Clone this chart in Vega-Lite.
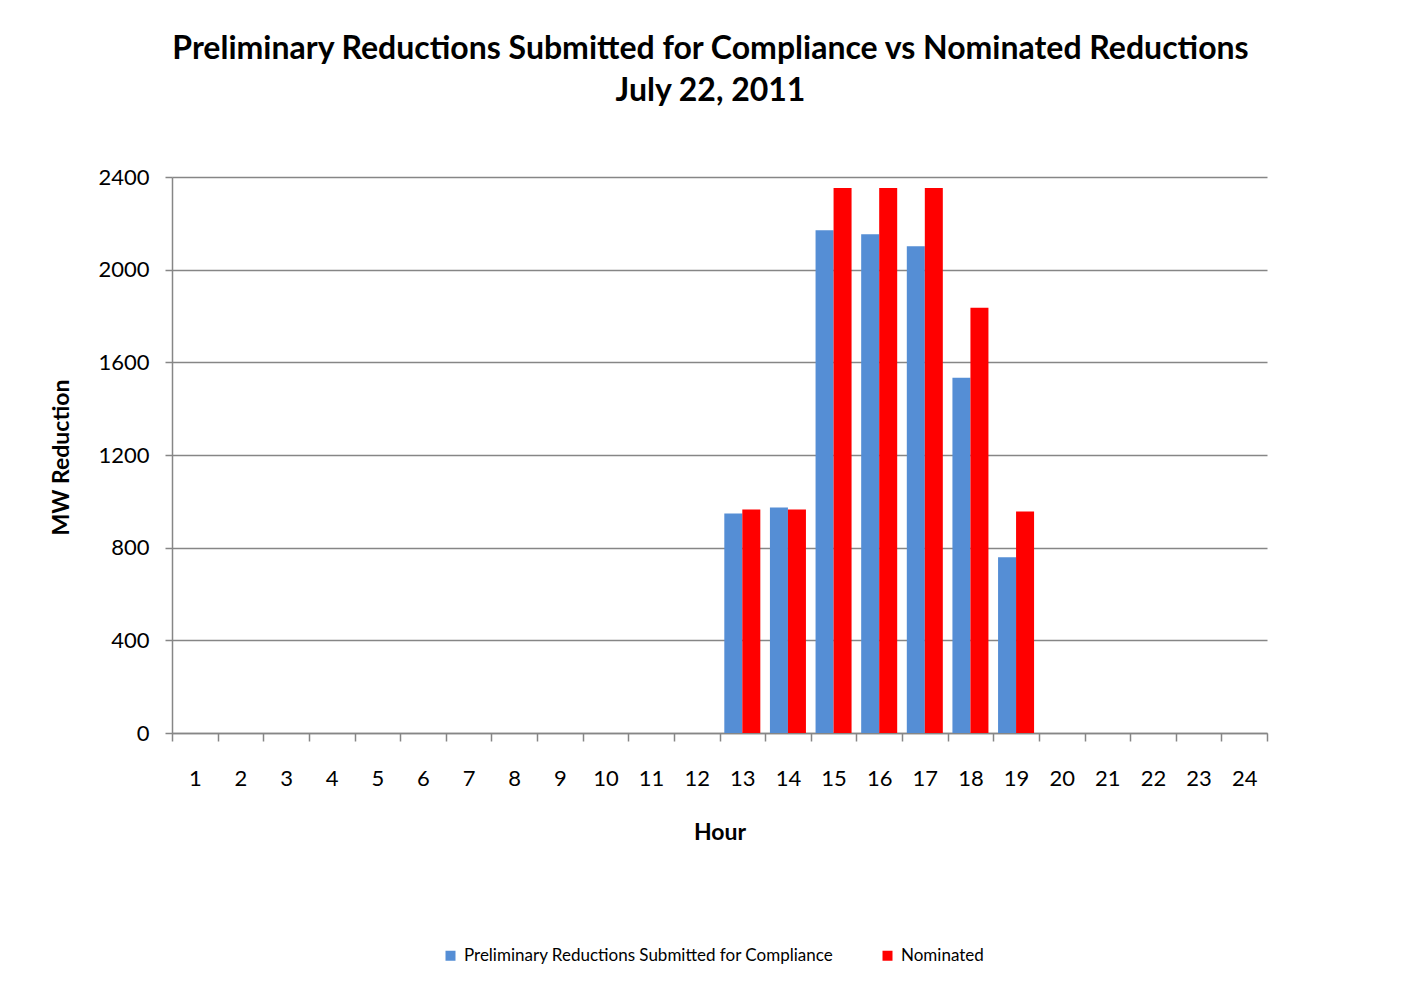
{
  "$schema": "https://vega.github.io/schema/vega-lite/v6.json",
  "width": 1095,
  "height": 556,
  "autosize": {"type": "none"},
  "padding": {"left": 172, "top": 177, "right": 135, "bottom": 253},
  "background": "white",
  "config": {
    "view": {"stroke": null},
    "font": "Lato"
  },
  "title": {
    "text": ["Preliminary Reductions Submitted for Compliance vs Nominated Reductions", "July 22, 2011"],
    "anchor": "middle",
    "font": "Lato",
    "fontSize": 32,
    "fontWeight": "bold",
    "color": "#000000",
    "lineHeight": 42,
    "offset": 58,
    "dx": -9
  },
  "data": {
    "values": [
      {"hour": 13, "series": "Preliminary Reductions Submitted for Compliance", "mw": 948},
      {"hour": 13, "series": "Nominated", "mw": 965},
      {"hour": 14, "series": "Preliminary Reductions Submitted for Compliance", "mw": 973},
      {"hour": 14, "series": "Nominated", "mw": 965},
      {"hour": 15, "series": "Preliminary Reductions Submitted for Compliance", "mw": 2170},
      {"hour": 15, "series": "Nominated", "mw": 2352},
      {"hour": 16, "series": "Preliminary Reductions Submitted for Compliance", "mw": 2153},
      {"hour": 16, "series": "Nominated", "mw": 2352},
      {"hour": 17, "series": "Preliminary Reductions Submitted for Compliance", "mw": 2101},
      {"hour": 17, "series": "Nominated", "mw": 2352},
      {"hour": 18, "series": "Preliminary Reductions Submitted for Compliance", "mw": 1533},
      {"hour": 18, "series": "Nominated", "mw": 1836},
      {"hour": 19, "series": "Preliminary Reductions Submitted for Compliance", "mw": 759},
      {"hour": 19, "series": "Nominated", "mw": 956}
    ]
  },
  "mark": {"type": "bar"},
  "encoding": {
    "x": {
      "field": "hour",
      "type": "ordinal",
      "scale": {
        "domain": [1,2,3,4,5,6,7,8,9,10,11,12,13,14,15,16,17,18,19,20,21,22,23,24],
        "paddingInner": 0,
        "paddingOuter": 0
      },
      "axis": {
        "title": "Hour",
        "titleFont": "Lato",
        "titleFontSize": 23,
        "titleFontWeight": "bold",
        "titleColor": "#000000",
        "titleX": 547.5,
        "titleY": 106,
        "titleAlign": "center",
        "titleBaseline": "alphabetic",
        "labelAngle": 0,
        "labelFont": "Lato",
        "labelFontSize": 22,
        "labelColor": "#000000",
        "labelPadding": 27,
        "tickBand": "extent",
        "tickSize": 8,
        "tickColor": "#868686",
        "tickWidth": 1.5,
        "domainColor": "#868686",
        "domainWidth": 1.5,
        "grid": false
      }
    },
    "xOffset": {
      "field": "series",
      "type": "nominal",
      "sort": ["Preliminary Reductions Submitted for Compliance", "Nominated"],
      "scale": {"paddingInner": 0, "paddingOuter": 0.267}
    },
    "y": {
      "field": "mw",
      "type": "quantitative",
      "scale": {"domain": [0, 2400], "nice": false},
      "axis": {
        "title": "MW Reduction",
        "titleFont": "Lato",
        "titleFontSize": 23,
        "titleFontWeight": "bold",
        "titleColor": "#000000",
        "titleX": -111,
        "titleY": 280,
        "titleAngle": -90,
        "titleAlign": "center",
        "titleBaseline": "middle",
        "values": [0, 400, 800, 1200, 1600, 2000, 2400],
        "format": "d",
        "labelFont": "Lato",
        "labelFontSize": 22,
        "labelColor": "#000000",
        "labelPadding": 16,
        "tickSize": 7,
        "tickColor": "#868686",
        "tickWidth": 1.5,
        "domainColor": "#868686",
        "domainWidth": 1.5,
        "grid": true,
        "gridColor": "#868686",
        "gridWidth": 1.5
      }
    },
    "color": {
      "field": "series",
      "type": "nominal",
      "scale": {
        "domain": ["Preliminary Reductions Submitted for Compliance", "Nominated"],
        "range": ["#558ED5", "#FF0000"]
      },
      "legend": {
        "title": null,
        "orient": "none",
        "direction": "horizontal",
        "legendX": 270,
        "legendY": 770,
        "symbolType": "square",
        "symbolSize": 100,
        "symbolStrokeWidth": 0,
        "labelFont": "Lato",
        "labelFontSize": 17,
        "labelColor": "#000000",
        "labelOffset": 5,
        "columnPadding": 45,
        "labelLimit": 500
      }
    }
  }
}
